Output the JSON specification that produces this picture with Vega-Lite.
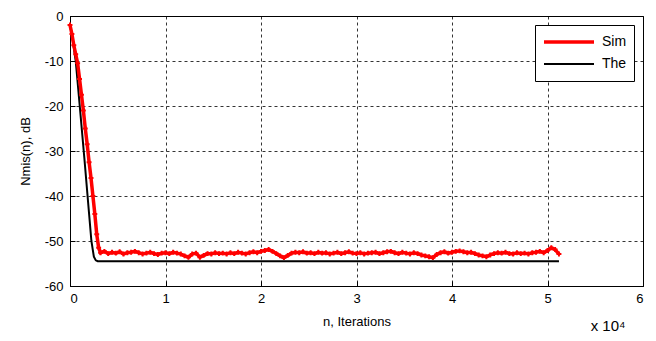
{
  "$schema": "https://vega.github.io/schema/vega-lite/v6.json",
  "width": 573,
  "height": 270,
  "autosize": {"type": "none"},
  "padding": {"left": 70, "top": 16, "right": 13, "bottom": 55},
  "background": "white",
  "config": {
    "font": "Liberation Sans",
    "view": {"stroke": "black", "strokeWidth": 1},
    "axis": {
      "domainColor": "black",
      "tickColor": "black",
      "labelColor": "black",
      "titleColor": "black",
      "labelFont": "Liberation Sans",
      "titleFont": "Liberation Sans",
      "labelFontSize": 13,
      "titleFontSize": 13,
      "titleFontWeight": "normal",
      "gridColor": "black",
      "gridOpacity": 1,
      "gridWidth": 0.8,
      "gridDash": [3, 3],
      "tickSize": -5
    }
  },
  "title": {
    "text": "x 10⁴",
    "orient": "bottom",
    "anchor": "end",
    "fontSize": 15,
    "fontWeight": "normal",
    "font": "Liberation Sans",
    "color": "black",
    "offset": -9,
    "dx": -18
  },
  "data": {
    "values": [
      {"n": 0, "dB": -2, "series": "The"},
      {"n": 300, "dB": -5.5, "series": "The"},
      {"n": 600, "dB": -10, "series": "The"},
      {"n": 1000, "dB": -19.5, "series": "The"},
      {"n": 1500, "dB": -31.5, "series": "The"},
      {"n": 2000, "dB": -44, "series": "The"},
      {"n": 2240, "dB": -50, "series": "The"},
      {"n": 2500, "dB": -53.5, "series": "The"},
      {"n": 2700, "dB": -54.3, "series": "The"},
      {"n": 2900, "dB": -54.5, "series": "The"},
      {"n": 51200, "dB": -54.5, "series": "The"},
      {"n": 0, "dB": -2, "series": "Sim"},
      {"n": 200, "dB": -4, "series": "Sim"},
      {"n": 400, "dB": -6.5, "series": "Sim"},
      {"n": 600, "dB": -8.5, "series": "Sim"},
      {"n": 800, "dB": -10.5, "series": "Sim"},
      {"n": 1000, "dB": -14, "series": "Sim"},
      {"n": 1200, "dB": -17.5, "series": "Sim"},
      {"n": 1400, "dB": -21, "series": "Sim"},
      {"n": 1600, "dB": -25, "series": "Sim"},
      {"n": 1800, "dB": -28.5, "series": "Sim"},
      {"n": 2000, "dB": -32.5, "series": "Sim"},
      {"n": 2200, "dB": -36, "series": "Sim"},
      {"n": 2400, "dB": -40, "series": "Sim"},
      {"n": 2600, "dB": -44, "series": "Sim"},
      {"n": 2800, "dB": -48.5, "series": "Sim"},
      {"n": 3000, "dB": -51.5, "series": "Sim"},
      {"n": 3200, "dB": -52.6, "series": "Sim"},
      {"n": 3600, "dB": -52.3, "series": "Sim"},
      {"n": 4000, "dB": -52.8, "series": "Sim"},
      {"n": 4400, "dB": -52.5, "series": "Sim"},
      {"n": 4800, "dB": -52.7, "series": "Sim"},
      {"n": 5200, "dB": -52.4, "series": "Sim"},
      {"n": 5600, "dB": -52.9, "series": "Sim"},
      {"n": 6000, "dB": -52.6, "series": "Sim"},
      {"n": 6400, "dB": -52.5, "series": "Sim"},
      {"n": 6800, "dB": -52.3, "series": "Sim"},
      {"n": 7200, "dB": -52.6, "series": "Sim"},
      {"n": 7600, "dB": -52.9, "series": "Sim"},
      {"n": 8000, "dB": -52.7, "series": "Sim"},
      {"n": 8400, "dB": -52.5, "series": "Sim"},
      {"n": 8800, "dB": -52.8, "series": "Sim"},
      {"n": 9200, "dB": -53.0, "series": "Sim"},
      {"n": 9600, "dB": -52.7, "series": "Sim"},
      {"n": 10000, "dB": -52.6, "series": "Sim"},
      {"n": 10400, "dB": -52.8, "series": "Sim"},
      {"n": 10800, "dB": -52.5, "series": "Sim"},
      {"n": 11200, "dB": -52.7, "series": "Sim"},
      {"n": 11600, "dB": -52.9, "series": "Sim"},
      {"n": 12000, "dB": -53.3, "series": "Sim"},
      {"n": 12400, "dB": -53.6, "series": "Sim"},
      {"n": 12800, "dB": -52.9, "series": "Sim"},
      {"n": 13200, "dB": -52.7, "series": "Sim"},
      {"n": 13600, "dB": -53.6, "series": "Sim"},
      {"n": 14000, "dB": -53.2, "series": "Sim"},
      {"n": 14400, "dB": -52.8, "series": "Sim"},
      {"n": 14800, "dB": -52.9, "series": "Sim"},
      {"n": 15200, "dB": -52.6, "series": "Sim"},
      {"n": 15600, "dB": -52.8, "series": "Sim"},
      {"n": 16000, "dB": -52.7, "series": "Sim"},
      {"n": 16400, "dB": -52.9, "series": "Sim"},
      {"n": 16800, "dB": -52.6, "series": "Sim"},
      {"n": 17200, "dB": -52.8, "series": "Sim"},
      {"n": 17600, "dB": -52.5, "series": "Sim"},
      {"n": 18000, "dB": -52.7, "series": "Sim"},
      {"n": 18400, "dB": -52.9, "series": "Sim"},
      {"n": 18800, "dB": -52.6, "series": "Sim"},
      {"n": 19200, "dB": -52.4, "series": "Sim"},
      {"n": 19600, "dB": -52.6, "series": "Sim"},
      {"n": 20000, "dB": -52.3, "series": "Sim"},
      {"n": 20400, "dB": -52.1, "series": "Sim"},
      {"n": 20800, "dB": -51.9, "series": "Sim"},
      {"n": 21200, "dB": -52.3, "series": "Sim"},
      {"n": 21600, "dB": -52.8, "series": "Sim"},
      {"n": 22000, "dB": -53.3, "series": "Sim"},
      {"n": 22400, "dB": -53.7, "series": "Sim"},
      {"n": 22800, "dB": -53.2, "series": "Sim"},
      {"n": 23200, "dB": -52.7, "series": "Sim"},
      {"n": 23600, "dB": -52.5, "series": "Sim"},
      {"n": 24000, "dB": -52.6, "series": "Sim"},
      {"n": 24400, "dB": -52.4, "series": "Sim"},
      {"n": 24800, "dB": -52.7, "series": "Sim"},
      {"n": 25200, "dB": -52.6, "series": "Sim"},
      {"n": 25600, "dB": -52.8, "series": "Sim"},
      {"n": 26000, "dB": -52.5, "series": "Sim"},
      {"n": 26400, "dB": -52.7, "series": "Sim"},
      {"n": 26800, "dB": -52.6, "series": "Sim"},
      {"n": 27200, "dB": -52.9, "series": "Sim"},
      {"n": 27600, "dB": -52.7, "series": "Sim"},
      {"n": 28000, "dB": -52.5, "series": "Sim"},
      {"n": 28400, "dB": -52.8, "series": "Sim"},
      {"n": 28800, "dB": -52.6, "series": "Sim"},
      {"n": 29200, "dB": -52.4, "series": "Sim"},
      {"n": 29600, "dB": -52.7, "series": "Sim"},
      {"n": 30000, "dB": -52.8, "series": "Sim"},
      {"n": 30400, "dB": -52.6, "series": "Sim"},
      {"n": 30800, "dB": -52.9, "series": "Sim"},
      {"n": 31200, "dB": -52.7, "series": "Sim"},
      {"n": 31600, "dB": -52.6, "series": "Sim"},
      {"n": 32000, "dB": -52.5, "series": "Sim"},
      {"n": 32400, "dB": -52.8, "series": "Sim"},
      {"n": 32800, "dB": -52.6, "series": "Sim"},
      {"n": 33200, "dB": -52.4, "series": "Sim"},
      {"n": 33600, "dB": -52.3, "series": "Sim"},
      {"n": 34000, "dB": -52.6, "series": "Sim"},
      {"n": 34400, "dB": -52.8, "series": "Sim"},
      {"n": 34800, "dB": -52.5, "series": "Sim"},
      {"n": 35200, "dB": -52.7, "series": "Sim"},
      {"n": 35600, "dB": -52.9, "series": "Sim"},
      {"n": 36000, "dB": -52.6, "series": "Sim"},
      {"n": 36400, "dB": -52.8, "series": "Sim"},
      {"n": 36800, "dB": -53.1, "series": "Sim"},
      {"n": 37200, "dB": -53.3, "series": "Sim"},
      {"n": 37600, "dB": -53.5, "series": "Sim"},
      {"n": 38000, "dB": -53.7, "series": "Sim"},
      {"n": 38400, "dB": -53.0, "series": "Sim"},
      {"n": 38800, "dB": -52.6, "series": "Sim"},
      {"n": 39200, "dB": -52.4, "series": "Sim"},
      {"n": 39600, "dB": -52.7, "series": "Sim"},
      {"n": 40000, "dB": -52.5, "series": "Sim"},
      {"n": 40400, "dB": -52.3, "series": "Sim"},
      {"n": 40800, "dB": -52.2, "series": "Sim"},
      {"n": 41200, "dB": -52.4, "series": "Sim"},
      {"n": 41600, "dB": -52.6, "series": "Sim"},
      {"n": 42000, "dB": -52.5, "series": "Sim"},
      {"n": 42400, "dB": -52.8, "series": "Sim"},
      {"n": 42800, "dB": -53.1, "series": "Sim"},
      {"n": 43200, "dB": -53.3, "series": "Sim"},
      {"n": 43600, "dB": -53.5, "series": "Sim"},
      {"n": 44000, "dB": -53.1, "series": "Sim"},
      {"n": 44400, "dB": -52.8, "series": "Sim"},
      {"n": 44800, "dB": -52.6, "series": "Sim"},
      {"n": 45200, "dB": -52.7, "series": "Sim"},
      {"n": 45600, "dB": -52.5, "series": "Sim"},
      {"n": 46000, "dB": -52.8, "series": "Sim"},
      {"n": 46400, "dB": -52.9, "series": "Sim"},
      {"n": 46800, "dB": -52.6, "series": "Sim"},
      {"n": 47200, "dB": -52.8, "series": "Sim"},
      {"n": 47600, "dB": -52.7, "series": "Sim"},
      {"n": 48000, "dB": -52.9, "series": "Sim"},
      {"n": 48400, "dB": -52.6, "series": "Sim"},
      {"n": 48800, "dB": -52.5, "series": "Sim"},
      {"n": 49200, "dB": -52.3, "series": "Sim"},
      {"n": 49600, "dB": -52.6, "series": "Sim"},
      {"n": 50000, "dB": -52.1, "series": "Sim"},
      {"n": 50400, "dB": -51.5, "series": "Sim"},
      {"n": 50800, "dB": -51.9, "series": "Sim"},
      {"n": 51200, "dB": -52.9, "series": "Sim"}
    ]
  },
  "encoding": {
    "x": {
      "field": "n",
      "type": "quantitative",
      "scale": {"domain": [0, 60000], "nice": false, "zero": false},
      "axis": {
        "title": "n, Iterations",
        "values": [0, 10000, 20000, 30000, 40000, 50000, 60000],
        "labelExpr": "'' + (datum.value / 10000)",
        "grid": true,
        "labelPadding": 11,
        "titlePadding": 10
      }
    },
    "y": {
      "field": "dB",
      "type": "quantitative",
      "scale": {"domain": [-60, 0], "nice": false, "zero": false},
      "axis": {
        "title": "Nmis(n), dB",
        "values": [-60, -50, -40, -30, -20, -10, 0],
        "labelExpr": "'' + datum.value",
        "grid": true,
        "labelPadding": 12,
        "titlePadding": 12
      }
    },
    "color": {
      "field": "series",
      "type": "nominal",
      "scale": {"domain": ["Sim", "The"], "range": ["#ff0000", "#000000"]},
      "legend": {
        "title": null,
        "orient": "none",
        "legendX": 465,
        "legendY": 9,
        "symbolType": "stroke",
        "symbolSize": 2500,
        "symbolStrokeWidth": 2,
        "clipHeight": 20,
        "rowPadding": 2,
        "labelFont": "Liberation Sans",
        "labelFontSize": 14,
        "labelColor": "black",
        "labelOffset": 6,
        "strokeColor": "black",
        "fillColor": "white",
        "padding": 7,
        "encode": {"symbols": {"update": {"strokeWidth": {"value": 2}}}}
      }
    }
  },
  "layer": [
    {
      "mark": {"type": "line"},
      "encoding": {
        "detail": {"field": "series"},
        "strokeWidth": {
          "field": "series",
          "type": "nominal",
          "scale": {"domain": ["Sim", "The"], "range": [3.5, 2]},
          "legend": null
        }
      }
    },
    {
      "transform": [{"filter": "datum.series == 'Sim'"}],
      "mark": {"type": "point", "shape": "cross", "filled": true, "size": 24, "opacity": 1}
    }
  ]
}
